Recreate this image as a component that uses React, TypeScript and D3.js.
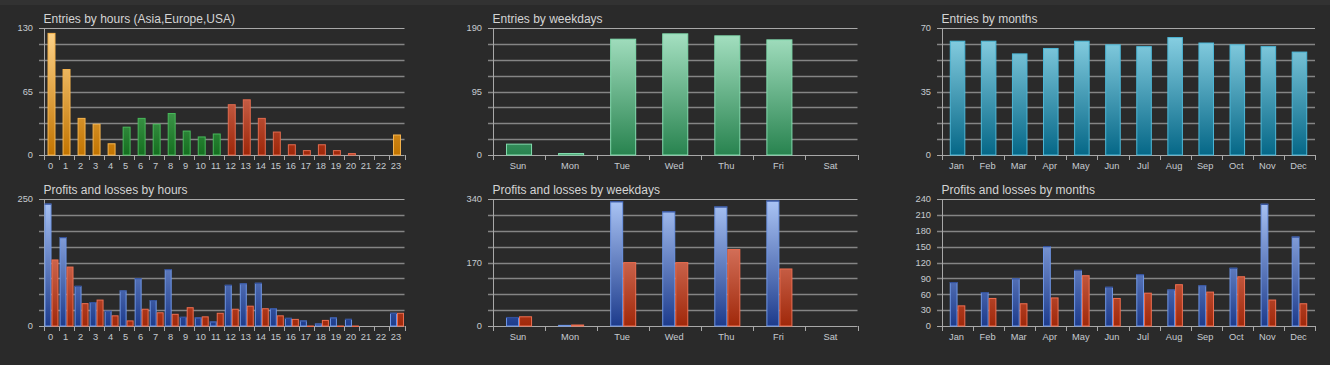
import React from "react";
import * as d3 from "d3";

// ---------- data ----------
const HOURS = ["0","1","2","3","4","5","6","7","8","9","10","11","12","13","14","15","16","17","18","19","20","21","22","23"];
const WEEKDAYS = ["Sun","Mon","Tue","Wed","Thu","Fri","Sat"];
const MONTHS = ["Jan","Feb","Mar","Apr","May","Jun","Jul","Aug","Sep","Oct","Nov","Dec"];

// session of each hour: a = Asia, e = Europe, u = USA
const HOUR_SESSION = ["a","a","a","a","a","e","e","e","e","e","e","e","u","u","u","u","u","u","u","u","u","u","u","a"];

const entriesByHours = [125,88,38,32,12,29,38,32,43,25,19,22,52,57,38,24,11,5,11,5,2,0,0,21];
const entriesByWeekdays = [17,3,174,182,179,173,0];
const entriesByMonths = [63,63,56,59,63,61,60,65,62,61,60,57];

const profitsByHours = [241,175,79,47,30,70,94,51,112,18,17,9,81,84,85,35,16,11,5,17,14,0,0,26];
const lossesByHours = [131,117,45,52,21,11,34,27,24,37,19,26,34,40,35,21,14,1,12,1,1,0,0,26];
const profitsByWeekdays = [24,3,334,307,320,336,0];
const lossesByWeekdays = [26,4,171,171,206,154,0];
const profitsByMonths = [83,64,90,151,106,74,98,69,77,110,231,169];
const lossesByMonths = [39,53,43,54,96,53,63,79,65,94,50,43];

const ticksEntriesHours = [0,65,130];
const ticksEntriesWeekdays = [0,95,190];
const ticksEntriesMonths = [0,35,70];
const ticksPLHours = [0,250];
const ticksPLWeekdays = [0,170,340];
const ticksPLMonths = [0,30,60,90,120,150,180,210,240];

// ---------- styles ----------
const FONT = "'Liberation Sans', Arial, sans-serif";
const PALETTE: Record<string, { top: string; bottom: string; stroke: string; cap?: string }> = {
  asia: { top: "#ffd68e", bottom: "#c27400", stroke: "#f7b54e" },
  europe: { top: "#8ee09a", bottom: "#146e1f", stroke: "#48b85a" },
  usa: { top: "#f2a292", bottom: "#9e2608", stroke: "#e26a4e" },
  mint: { top: "#aae4c6", bottom: "#28834f", stroke: "#82dcae" },
  teal: { top: "#90d6e8", bottom: "#056787", stroke: "#4cb8d8" },
  blue: { top: "#acc6f6", bottom: "#1d3b8c", stroke: "#6e96e6", cap: "#33509a" },
  red: { top: "#f29c8a", bottom: "#a0280a", stroke: "#ee6e50" },
};

type Series = { values: number[]; color: (i: number) => string };

interface PanelProps {
  id: string;
  title: string;
  x0: number;
  x1: number;
  top: number;
  base: number;
  categories: string[];
  series: Series[];
  max: number;
  ticks: number[];
  padding: number;
}

function Panel(p: PanelProps) {
  const x = d3.scaleBand<string>().domain(p.categories).range([p.x0, p.x1]).paddingInner(p.padding).paddingOuter(p.padding / 2);
  const step = (p.x1 - p.x0) / p.categories.length;
  const inner = d3.scaleBand<number>().domain(p.series.map((_, i) => i)).range([0, x.bandwidth()]);
  const y = d3.scaleLinear().domain([0, p.max]).range([p.base, p.top]);
  const grid = d3.range(9).map((i) => (p.max * i) / 8);
  const colorsUsed = Array.from(new Set(p.series.flatMap((s) => p.categories.map((_, i) => s.color(i)))));
  return (
    <g>
      <defs>
        {colorsUsed.map((c) => (
          <linearGradient key={c} id={`${p.id}-${c}`} gradientUnits="userSpaceOnUse" x1={0} x2={0} y1={p.top} y2={p.base}>
            <stop offset="0" stopColor={PALETTE[c].top} />
            <stop offset="1" stopColor={PALETTE[c].bottom} />
          </linearGradient>
        ))}
      </defs>
      <text x={p.x0 - 0.5} y={p.top - 5} fill="#d4d4d4" fontSize={12} fontFamily={FONT}>
        {p.title}
      </text>
      {grid.map((g, i) => {
        const yy = Math.round(y(g)) + 0.5;
        const edge = i === 0 || i === 8;
        return (
          <line key={i} x1={p.x0 - 5} x2={p.x1} y1={yy} y2={yy} stroke={edge ? "#a8a8a8" : "#858585"} strokeWidth={edge ? 1.2 : 1.6} />
        );
      })}
      <line x1={p.x0 + 0.5} x2={p.x0 + 0.5} y1={Math.round(p.top)} y2={p.base + 5} stroke="#a8a8a8" strokeWidth={1} />
      {p.categories.map((c, i) => {
        const bx = Math.round(p.x0 + step * (i + 1)) + 0.5;
        return <line key={c} x1={bx} x2={bx} y1={p.base} y2={p.base + 5} stroke="#a8a8a8" strokeWidth={1} />;
      })}
      {p.ticks.map((t) => (
        <text key={t} x={p.x0 - 11} y={y(t)} dy="0.35em" textAnchor="end" fill="#c6cad0" fontSize={9.3} fontFamily={FONT}>
          {t}
        </text>
      ))}
      {p.categories.map((c) => (
        <text key={c} x={(x(c) as number) + x.bandwidth() / 2 - 1} y={p.base + 14} textAnchor="middle" fill="#c6cad0" fontSize={9.3} fontFamily={FONT}>
          {c}
        </text>
      ))}
      {p.series.map((s, si) =>
        s.values.map((v, i) => {
          if (v <= 0) return null;
          const c = s.color(i);
          const bx = (x(p.categories[i]) as number) + (inner(si) as number);
          const bw = inner.bandwidth();
          const yt = y(v);
          const h = p.base - yt;
          const cap = PALETTE[c].cap;
          return (
            <g key={`${si}-${i}`}>
              <rect x={bx + 0.5} y={yt + 0.5} width={Math.max(bw - 1, 0.5)} height={Math.max(h - 0.5, 0.5)} fill={`url(#${p.id}-${c})`} stroke={PALETTE[c].stroke} strokeWidth={1} />
              {cap && h > 2 ? (
                <line x1={bx} x2={bx + bw} y1={yt + 0.5} y2={yt + 0.5} stroke={cap} strokeWidth={1.2} />
              ) : null}
            </g>
          );
        })
      )}
    </g>
  );
}

export default function App() {
  const W = 1330;
  const H = 365;
  const cols = [
    { x0: 44, x1: 404.5 },
    { x0: 493, x1: 857.5 },
    { x0: 942, x1: 1315 },
  ];
  const rows = [
    { top: 28, base: 155 },
    { top: 199, base: 326 },
  ];
  const hourColor = (i: number) => (HOUR_SESSION[i] === "a" ? "asia" : HOUR_SESSION[i] === "e" ? "europe" : "usa");
  return (
    <svg width={W} height={H} style={{ position: "fixed", left: 0, top: 0, background: "#2a2a2a" }}>
      <rect x={0} y={0} width={W} height={H} fill="#2a2a2a" />
      <rect x={0} y={0} width={W} height={5} fill="#323232" />
      <Panel id="eh" title="Entries by hours (Asia,Europe,USA)" {...cols[0]} {...rows[0]} categories={HOURS}
        series={[{ values: entriesByHours, color: hourColor }]} max={130} ticks={ticksEntriesHours} padding={0.47} />
      <Panel id="ew" title="Entries by weekdays" {...cols[1]} {...rows[0]} categories={WEEKDAYS}
        series={[{ values: entriesByWeekdays, color: () => "mint" }]} max={190} ticks={ticksEntriesWeekdays} padding={0.5} />
      <Panel id="em" title="Entries by months" {...cols[2]} {...rows[0]} categories={MONTHS}
        series={[{ values: entriesByMonths, color: () => "teal" }]} max={70} ticks={ticksEntriesMonths} padding={0.5} />
      <Panel id="ph" title="Profits and losses by hours" {...cols[0]} {...rows[1]} categories={HOURS}
        series={[{ values: profitsByHours, color: () => "blue" }, { values: lossesByHours, color: () => "red" }]}
        max={250} ticks={ticksPLHours} padding={0.07} />
      <Panel id="pw" title="Profits and losses by weekdays" {...cols[1]} {...rows[1]} categories={WEEKDAYS}
        series={[{ values: profitsByWeekdays, color: () => "blue" }, { values: lossesByWeekdays, color: () => "red" }]}
        max={340} ticks={ticksPLWeekdays} padding={0.5} />
      <Panel id="pm" title="Profits and losses by months" {...cols[2]} {...rows[1]} categories={MONTHS}
        series={[{ values: profitsByMonths, color: () => "blue" }, { values: lossesByMonths, color: () => "red" }]}
        max={240} ticks={ticksPLMonths} padding={0.5} />
    </svg>
  );
}
